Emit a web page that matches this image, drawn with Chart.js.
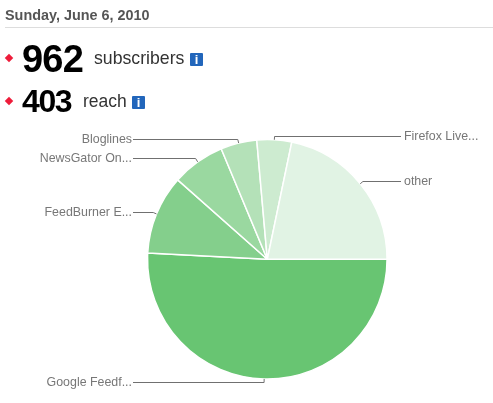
<!DOCTYPE html>
<html>
<head>
<meta charset="utf-8">
<script src="https://cdn.jsdelivr.net/npm/chart.js@4"></script>
<style>
  html, body { margin: 0; background: #fff; }
  body { width: 493px; height: 403px; position: relative; overflow: hidden; font-family: "Liberation Sans", Arial, sans-serif; }
  #canvas1 { position: absolute; left: 0; top: 0; }
  .t { position: absolute; white-space: nowrap; line-height: 1; }
  .rule { position: absolute; left: 5px; top: 27px; width: 488px; height: 1px; background: #ddd; }
  .dot { position: absolute; width: 6px; height: 6px; background: #ee1c3a; transform: rotate(45deg); }
  .info { position: absolute; width: 13px; height: 13px; background: #2266bb; color: #fff; font: bold 13px/13px "Liberation Sans", Arial, sans-serif; text-align: center; border-radius: 1px; }
</style>
</head>
<body>
<canvas id="canvas1" width="493" height="403"></canvas>
<div class="t" style="left:5px;top:8px;font-size:14.4px;font-weight:bold;color:#555">Sunday, June 6, 2010</div>
<div class="rule"></div>
<div class="dot" style="left:6px;top:55px"></div>
<div class="t" style="left:22px;top:40px;font-size:38px;font-weight:bold;color:#000;letter-spacing:-0.8px">962</div>
<div class="t" style="left:94px;top:50px;font-size:17.7px;color:#333">subscribers</div>
<div class="info" style="left:190px;top:53px">i</div>
<div class="dot" style="left:6px;top:98px"></div>
<div class="t" style="left:22px;top:85px;font-size:32px;font-weight:bold;color:#000;letter-spacing:-1.4px">403</div>
<div class="t" style="left:83px;top:93px;font-size:17.5px;color:#333">reach</div>
<div class="info" style="left:132px;top:96px">i</div>
<script>
var labels = ["Google Feedf...", "FeedBurner E...", "NewsGator On...", "Bloglines", "Firefox Live...", "other"];
var values = [489, 103, 69, 47, 45, 209];
var colors = ["#68c572", "#84cf8c", "#9ad8a0", "#b4e1b8", "#cdebd0", "#e1f3e4"];

// leader lines with the cut off names, anchored on each slice
var leaders = {
  id: 'leaders',
  afterDatasetsDraw: function(chart) {
    var ctx = chart.ctx;
    var arcs = chart.getDatasetMeta(0).data;
    ctx.save();
    ctx.font = '12.4px "Liberation Sans", Arial, sans-serif';
    ctx.textBaseline = 'middle';
    ctx.lineWidth = 1;
    arcs.forEach(function(arc, i) {
      var mid = (arc.startAngle + arc.endAngle) / 2;
      var cos = Math.cos(mid), sin = Math.sin(mid);
      var ax = arc.x + cos * arc.outerRadius;
      var ay = arc.y + sin * arc.outerRadius;
      // small elbow goes straight out from the slice, then flat to the label
      var ex = arc.x + cos * (arc.outerRadius + 3.5);
      var ly = Math.floor(arc.y + sin * (arc.outerRadius + 3.5) - 0.2) + 0.5;
      var right = cos > 0 && sin < 0;
      var endX = right ? 401 : 133;
      ctx.strokeStyle = '#707070';
      ctx.beginPath();
      ctx.moveTo(ax, ay);
      ctx.lineTo(ex, ly);
      ctx.lineTo(endX, ly);
      ctx.stroke();
      ctx.fillStyle = '#777';
      ctx.textAlign = right ? 'left' : 'right';
      ctx.fillText(labels[i], right ? 404 : 132, ly);
    });
    ctx.restore();
  }
};

new Chart(document.getElementById('canvas1'), {
  type: 'pie',
  data: {
    labels: labels,
    datasets: [{
      data: values,
      backgroundColor: colors,
      borderColor: '#fff',
      borderWidth: 1.5
    }]
  },
  options: {
    responsive: false,
    animation: false,
    rotation: 90,
    layout: { padding: { left: 146.8, right: 105.2, top: 138.8, bottom: 23.2 } },
    plugins: { legend: { display: false }, tooltip: { enabled: false } }
  },
  plugins: [leaders]
});
</script>
</body>
</html>
